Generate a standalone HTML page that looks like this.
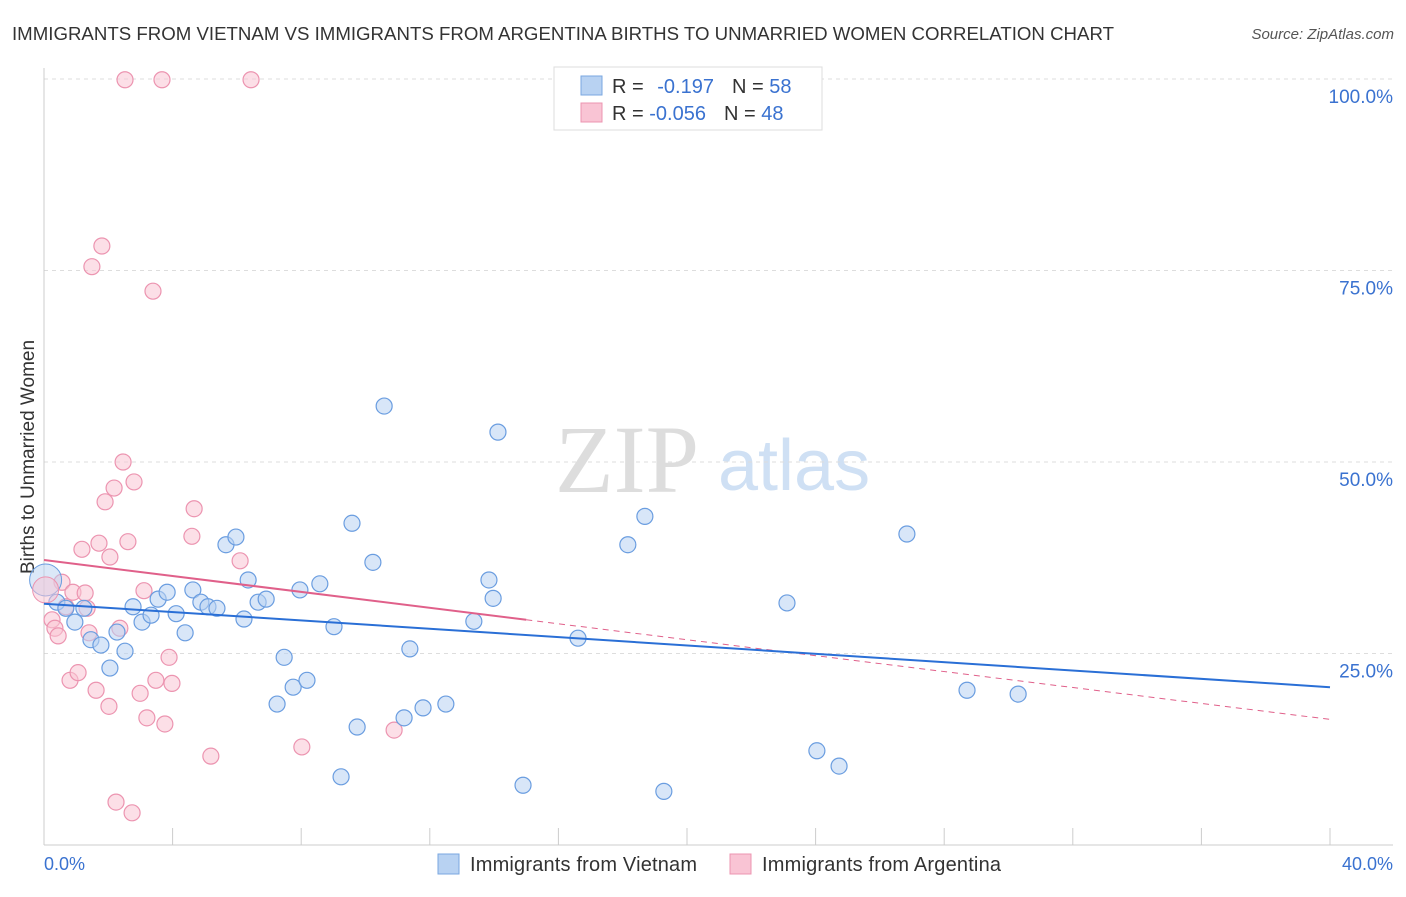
<!DOCTYPE html>
<html><head><meta charset="utf-8"><style>
body{margin:0;background:#fff;font-family:"Liberation Sans",sans-serif;}
</style></head><body>
<svg id="c" width="1406" height="892" xmlns="http://www.w3.org/2000/svg">
<text x="12" y="40" font-size="18" fill="#333" textLength="1102" lengthAdjust="spacingAndGlyphs">IMMIGRANTS FROM VIETNAM VS IMMIGRANTS FROM ARGENTINA BIRTHS TO UNMARRIED WOMEN CORRELATION CHART</text>
<text x="1394" y="39" font-size="15" fill="#555" font-style="italic" text-anchor="end">Source: ZipAtlas.com</text>
<text x="555" y="492" font-size="96" fill="#ddd" font-family="Liberation Serif">ZIP</text>
<text x="718" y="490" font-size="72" fill="#cfe0f4">atlas</text>
<text transform="translate(34,457) rotate(-90)" font-size="19" fill="#333" text-anchor="middle">Births to Unmarried Women</text>
<g id="grid"></g><g id="marks"></g>
<g>
<rect x="554" y="67" width="268" height="63" fill="#fff" stroke="#ddd"/>
<rect x="581" y="76" width="21" height="19" fill="#b8d2f2" stroke="#7aa7e0"/>
<rect x="581" y="103" width="21" height="19" fill="#f9c4d4" stroke="#ec94b0"/>
<text x="612" y="93" font-size="20" fill="#333">R = <tspan fill="#3a72d0" dx="8">-0.197</tspan><tspan dx="18" fill="#333">N = </tspan><tspan fill="#3a72d0">58</tspan></text>
<text x="612" y="120" font-size="20" fill="#333">R = <tspan fill="#3a72d0">-0.056</tspan><tspan dx="18" fill="#333">N = </tspan><tspan fill="#3a72d0">48</tspan></text>
</g>
<g>
<rect x="438" y="854" width="21" height="20" fill="#b8d2f2" stroke="#7aa7e0"/>
<text x="470" y="871" font-size="20" fill="#333" textLength="227">Immigrants from Vietnam</text>
<rect x="730" y="854" width="21" height="20" fill="#f9c4d4" stroke="#ec94b0"/>
<text x="762" y="871" font-size="20" fill="#333" textLength="239">Immigrants from Argentina</text>
</g>
</svg>
<script>
const blueX=[0.40,0.68,0.96,1.24,1.46,1.77,2.05,2.27,2.52,2.77,3.05,3.33,3.55,3.83,4.11,4.39,4.63,4.88,5.10,5.38,5.66,5.97,6.22,6.35,6.66,6.91,7.25,7.47,7.75,7.96,8.18,8.58,9.02,9.24,9.58,9.74,10.23,10.58,11.20,11.38,11.79,12.50,13.37,13.84,13.97,14.12,14.90,16.61,18.16,18.69,19.28,23.11,24.04,24.73,26.84,28.71,30.30];
const blueY=[31.7,30.9,29.1,30.9,26.8,26.1,23.1,27.8,25.3,31.1,29.1,30.0,32.1,33.0,30.2,27.7,33.3,31.7,31.1,30.9,39.2,40.2,29.5,34.6,31.7,32.1,18.4,24.5,20.6,33.3,21.5,34.1,28.5,8.9,42.0,15.4,36.9,57.3,16.6,25.6,17.9,18.4,29.2,34.6,32.2,53.9,7.8,27.0,39.2,42.9,7.0,31.6,12.3,10.3,40.6,20.2,19.7];
const pinkX=[0.25,0.34,0.44,0.56,0.68,0.81,0.90,1.06,1.18,1.28,1.34,1.40,1.49,1.62,1.71,1.80,1.90,2.02,2.05,2.18,2.24,2.36,2.46,2.52,2.61,2.74,2.80,2.99,3.11,3.20,3.39,3.48,3.67,3.76,3.89,3.98,4.60,4.67,5.19,6.10,6.44,8.02,10.89];
const pinkY=[29.4,28.3,27.3,34.3,31.1,21.5,33.0,22.5,38.6,32.9,30.9,27.7,75.5,20.2,39.4,78.2,44.8,18.1,37.6,46.6,5.6,28.3,50.0,99.9,39.6,4.2,47.4,19.8,33.2,16.6,72.3,21.5,99.9,15.8,24.5,21.1,40.3,43.9,11.6,37.1,99.9,12.8,15.0];
const blueTrend=[31.5,20.6];
const pinkTrend=[37.2,16.4];
const yTicks=[25,50,75,100];
const yTickLabels=["25.0%","50.0%","75.0%","100.0%"];
const xTicks=[0,4,8,12,16,20,24,28,32,36,40];
const NS="http://www.w3.org/2000/svg";
const sx=v=>44+v*32.15, sy=v=>845-v*7.66;
function mk(t,a,p){const e=document.createElementNS(NS,t);for(const k in a)e.setAttribute(k,a[k]);p.appendChild(e);return e;}
const g=document.getElementById('grid'),m=document.getElementById('marks');
yTicks.forEach((t,i)=>{
 const l=mk('line',{x1:44,x2:1393,y1:sy(t),y2:sy(t),stroke:'#ddd','stroke-dasharray':'4,4'},g);
 
 
 const tx=mk('text',{x:1393,y:sy(t)+24,'font-size':19,fill:'#3a72d0','text-anchor':'end'},g);
 tx.textContent=yTickLabels[i];
 
 
});
const ax=mk('line',{x1:44,x2:44,y1:68,y2:845,stroke:'#ccc'},g);


const bx=mk('line',{x1:44,x2:1393,y1:845,y2:845,stroke:'#ccc'},g);


xTicks.forEach(t=>{const l=mk('line',{x1:sx(t),x2:sx(t),y1:828,y2:845,stroke:'#ccc'},g);
 
 });
const x0=mk('text',{x:44,y:870,'font-size':18,fill:'#3a72d0'},g);x0.textContent='0.0%';


const x1=mk('text',{x:1393,y:870,'font-size':18,fill:'#3a72d0','text-anchor':'end'},g);x1.textContent='40.0%';


function dots(X,Y,fill,stroke,name){X.forEach((x,i)=>{const c=mk('circle',{cx:sx(x),cy:sy(Y[i]),r:8,fill:fill,'fill-opacity':0.55,stroke:stroke,'stroke-width':1.2},m);
 
 });}
dots(pinkX,pinkY,'#f9c4d4','#ec94b0','point-argentina');
dots(blueX,blueY,'#b8d2f2','#6a9de0','point-vietnam');
const bb=mk('circle',{cx:sx(0.05),cy:sy(34.6),r:16,fill:'#b8d2f2','fill-opacity':0.5,stroke:'#6a9de0'},m);


const pb=mk('circle',{cx:sx(0.05),cy:sy(33.3),r:13,fill:'#f9c4d4','fill-opacity':0.5,stroke:'#ec94b0'},m);


const pf=v=>pinkTrend[0]+(pinkTrend[1]-pinkTrend[0])*v/40;
const pl=mk('line',{x1:sx(0),y1:sy(pinkTrend[0]),x2:sx(15),y2:sy(pf(15)),stroke:'#e0608a','stroke-width':2},m);


const pd=mk('line',{x1:sx(15),y1:sy(pf(15)),x2:sx(40),y2:sy(pinkTrend[1]),stroke:'#e0608a','stroke-width':1,'stroke-dasharray':'6,5'},m);


const bl=mk('line',{x1:sx(0),y1:sy(blueTrend[0]),x2:sx(40),y2:sy(blueTrend[1]),stroke:'#2a6fd6','stroke-width':2},m);


</script>
</body></html>
